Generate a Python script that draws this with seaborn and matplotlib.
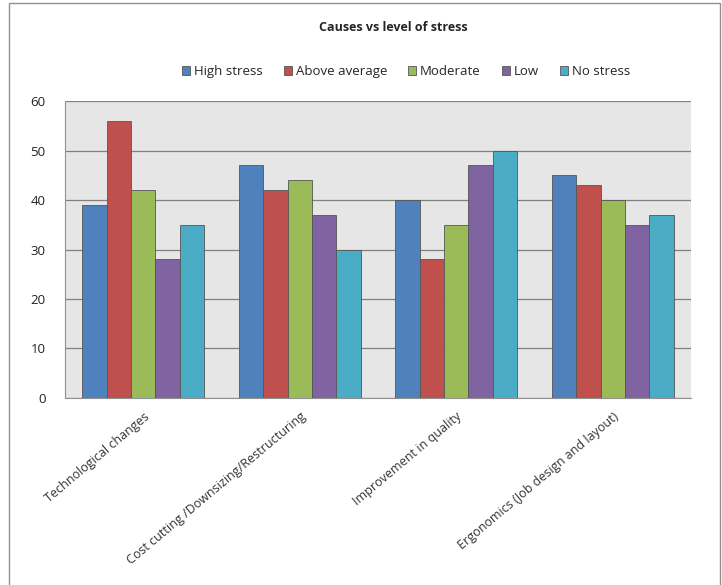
import matplotlib
matplotlib.use('Agg')
import matplotlib.pyplot as plt
from matplotlib.patches import Rectangle
import seaborn as sns
import pandas as pd

causes = ['Technological changes', 'Cost cutting /Downsizing/Restructuring',
          'Improvement in quality', 'Ergonomics (Job design and layout)']
levels = ['High stress', 'Above average', 'Moderate', 'Low', 'No stress']
high_stress = [39, 47, 40, 45]
above_average = [56, 42, 28, 43]
moderate = [42, 44, 35, 40]
low = [28, 37, 47, 35]
no_stress = [35, 30, 50, 37]
colors = ['#4F81BD', '#C0504D', '#9BBB59', '#8064A2', '#4BACC6']

series = [high_stress, above_average, moderate, low, no_stress]
rows = []
for lvl, vals in zip(levels, series):
    for c, v in zip(causes, vals):
        rows.append({'cause': c, 'level': lvl, 'value': v})
df = pd.DataFrame(rows)

sns.set_style('white')
plt.rcParams['font.family'] = ['Open Sans', 'DejaVu Sans']

fig = plt.figure(figsize=(7.22, 5.85), dpi=100)
ax = fig.add_axes([0.090, 0.320, 0.867, 0.507])
ax.set_facecolor('#E6E6E6')

sns.barplot(data=df, x='cause', y='value', hue='level', palette=colors,
            width=0.78, gap=0, edgecolor='#555555', linewidth=0.6,
            saturation=1, ax=ax, zorder=3)

ax.set_ylim(0, 60)
ax.set_yticks(range(0, 61, 10))
ax.yaxis.grid(True, color='#808080', linewidth=0.9, zorder=0)
ax.set_axisbelow(True)
ax.set_xlabel('')
ax.set_ylabel('')
for s in ['top', 'right']:
    ax.spines[s].set_visible(False)
ax.spines['left'].set_color('#909090')
ax.spines['bottom'].set_color('#909090')
ax.tick_params(axis='both', length=0, labelsize=9.5, colors='#222222')
ax.tick_params(axis='y', pad=14)
ax.tick_params(axis='x', pad=9)
ax.set_xticks(range(len(causes)))
ax.set_xticklabels(causes, rotation=40, ha='right', rotation_mode='anchor',
                   fontsize=9, color='#333333')

sns.move_legend(ax, 'center', bbox_to_anchor=(0.545, 1.10), ncol=5,
                frameon=False, title=None, fontsize=9.5,
                handlelength=0.6, handleheight=0.6, handletextpad=0.3,
                columnspacing=1.6)

fig.text(0.545, 0.953, 'Causes vs level of stress', ha='center', va='center',
         fontsize=9, fontweight='bold')

fig.patches.append(Rectangle((0.012, -0.01), 0.985, 1.005,
                             transform=fig.transFigure, fill=False,
                             edgecolor='#909090', linewidth=1))

fig.savefig('out.png', dpi=100)
